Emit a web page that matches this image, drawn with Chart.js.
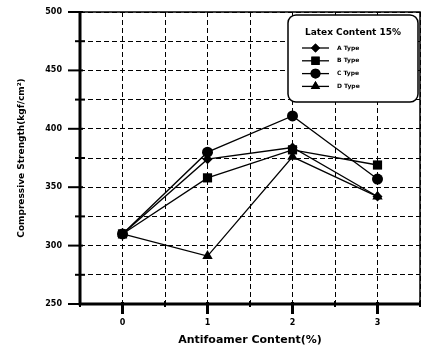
<!DOCTYPE html>
<html>
<head>
<meta charset="utf-8">
<title>Compressive Strength vs Antifoamer Content</title>
<script src="https://cdn.jsdelivr.net/npm/chart.js@4/dist/chart.umd.min.js"></script>
<style>
    body { margin: 0; background: #ffffff; }
    #wrap { width: 422px; height: 347px; }
</style>
</head>
<body>
<div id="wrap"><canvas id="strengthChart" width="422" height="347"></canvas></div>
<script>
/* ==========================================
   Compressive strength chart - data
========================================== */

const antifoamer = [0, 1, 2, 3];

const aType = [310, 374, 384, 342];
const bType = [310, 358, 382, 369];
const cType = [310, 380, 411, 357];
const dType = [310, 291, 376, 342];

const typeNames = ["A Type", "B Type", "C Type", "D Type"];
const typeMarks = ["rectRot", "rect", "circle", "triangle"];
const typeSizes = [5, 6.5, 5.5, 6];

const legendTitle = "Latex Content 15%";

const yTicks = [250, 300, 350, 400, 450, 500];

document.addEventListener("DOMContentLoaded", function () {

    const FONT = "'DejaVu Sans', Verdana, sans-serif";

    function toPoints(values) {
        return antifoamer.map(function (x, i) {
            return { x: x, y: values[i] };
        });
    }

    const series = [aType, bType, cType, dType];

    const datasets = series.map(function (values, i) {
        return {
            label: typeNames[i],
            data: toPoints(values),
            borderColor: "#000000",
            backgroundColor: "#000000",
            borderWidth: 1.3,
            pointStyle: typeMarks[i],
            pointRadius: typeSizes[i],
            pointBorderWidth: 0,
            pointBackgroundColor: "#000000",
            tension: 0
        };
    });

    /* ===============================
       Frame, tick marks and legend box
    =============================== */

    const framePlugin = {
        id: "frame",
        afterDraw: function (chart) {
            const ctx = chart.ctx;
            const area = chart.chartArea;
            const xs = chart.scales.x;
            const ys = chart.scales.y;

            ctx.save();
            ctx.strokeStyle = "#000000";

            // outer frame
            ctx.lineWidth = 1.5;
            ctx.beginPath();
            ctx.moveTo(area.left, area.top);
            ctx.lineTo(area.right, area.top);
            ctx.lineTo(area.right, area.bottom);
            ctx.stroke();

            ctx.lineWidth = 3;
            ctx.beginPath();
            ctx.moveTo(area.left, area.top - 1);
            ctx.lineTo(area.left, area.bottom);
            ctx.lineTo(area.right, area.bottom);
            ctx.stroke();

            // y tick marks
            for (let v = 250; v <= 500; v += 25) {
                const py = ys.getPixelForValue(v);
                ctx.lineWidth = 2;
                ctx.beginPath();
                if (v % 50 === 0) {
                    ctx.moveTo(area.left - 12, py);
                    ctx.lineTo(area.left + 3, py);
                } else {
                    ctx.moveTo(area.left - 5, py);
                    ctx.lineTo(area.left + 5, py);
                }
                ctx.stroke();
            }

            // x tick marks
            for (let v = -0.5; v <= 3.5; v += 0.5) {
                const px = xs.getPixelForValue(v);
                ctx.beginPath();
                if (Number.isInteger(v)) {
                    ctx.lineWidth = 3;
                    ctx.moveTo(px, area.bottom - 2);
                    ctx.lineTo(px, area.bottom + 10);
                } else {
                    ctx.lineWidth = 2;
                    ctx.moveTo(px, area.bottom - 3);
                    ctx.lineTo(px, area.bottom + 3);
                }
                ctx.stroke();
            }

            // legend box
            const bx = 288, by = 15, bw = 130, bh = 87;
            ctx.fillStyle = "#ffffff";
            ctx.lineWidth = 1.5;
            ctx.beginPath();
            ctx.roundRect(bx, by, bw, bh, 8);
            ctx.fill();
            ctx.stroke();

            ctx.fillStyle = "#000000";
            ctx.font = "bold 9px " + FONT;
            ctx.textAlign = "center";
            ctx.textBaseline = "middle";
            ctx.fillText(legendTitle, bx + bw / 2, 33);

            ctx.font = "bold 6px " + FONT;
            ctx.textAlign = "left";
            typeNames.forEach(function (name, i) {
                const ly = 48 + i * 12.8;
                ctx.lineWidth = 1.3;
                ctx.beginPath();
                ctx.moveTo(302, ly);
                ctx.lineTo(329, ly);
                ctx.stroke();
                Chart.helpers.drawPoint(ctx, {
                    pointStyle: typeMarks[i],
                    radius: typeSizes[i] * 0.9,
                    rotation: 0,
                    borderWidth: 0
                }, 315.5, ly);
                ctx.fill();
                ctx.fillText(name, 337, ly);
            });

            ctx.restore();
        }
    };

    /* ===============================
       Chart
    =============================== */

    const strengthChart = document.getElementById("strengthChart");

    new Chart(strengthChart, {

        type: "line",

        data: {
            datasets: datasets
        },

        options: {

            responsive: false,
            animation: false,

            layout: {
                autoPadding: false,
                padding: { top: 12, right: 2, left: 0, bottom: 0 }
            },

            plugins: {
                legend: { display: false },
                tooltip: { enabled: false }
            },

            scales: {

                x: {
                    type: "linear",
                    min: -0.5,
                    max: 3.5,
                    afterFit: function (scale) {
                        scale.height = 43;
                        scale.paddingLeft = 0;
                        scale.paddingRight = 0;
                        scale.paddingTop = 0;
                        scale.paddingBottom = 0;
                    },
                    ticks: {
                        stepSize: 0.5,
                        autoSkip: false,
                        maxRotation: 0,
                        color: "#000000",
                        padding: 14,
                        font: { family: FONT, size: 8, weight: "bold" },
                        callback: function (v) {
                            return Number.isInteger(v) ? String(v) : "";
                        }
                    },
                    grid: {
                        color: "#000000",
                        lineWidth: 1,
                        drawTicks: false
                    },
                    border: { display: false, dash: [5, 3] },
                    title: {
                        display: true,
                        text: "Antifoamer Content(%)",
                        color: "#000000",
                        font: { family: FONT, size: 11, weight: "bold" },
                        padding: { top: 3, bottom: 0 }
                    }
                },

                y: {
                    min: 250,
                    max: 500,
                    afterFit: function (scale) {
                        scale.width = 80;
                        scale.paddingLeft = 0;
                        scale.paddingRight = 0;
                        scale.paddingTop = 0;
                        scale.paddingBottom = 0;
                    },
                    ticks: {
                        stepSize: 25,
                        autoSkip: false,
                        color: "#000000",
                        padding: 18,
                        font: { family: FONT, size: 8, weight: "bold" },
                        callback: function (v) {
                            return yTicks.includes(v) ? String(v) : "";
                        }
                    },
                    grid: {
                        color: "#000000",
                        lineWidth: 1,
                        drawTicks: false
                    },
                    border: { display: false, dash: [5, 3] },
                    title: {
                        display: true,
                        text: "Compressive Strength(kgf/cm²)",
                        color: "#000000",
                        font: { family: FONT, size: 9, weight: "bold" },
                        padding: { top: 16, bottom: 0 }
                    }
                }

            }

        },

        plugins: [framePlugin]

    });

});
</script>
</body>
</html>
